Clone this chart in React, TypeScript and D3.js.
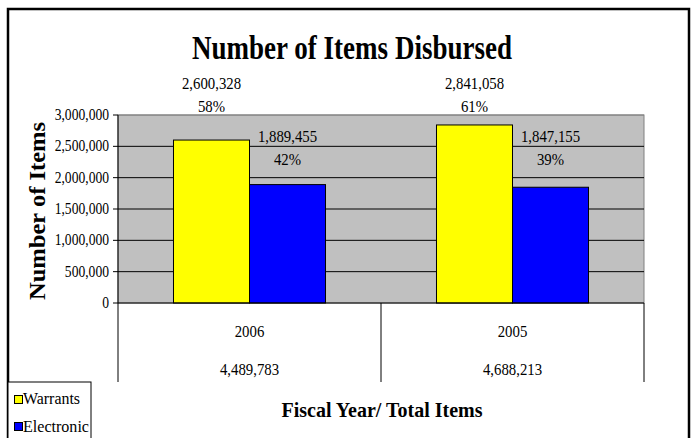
import React from "react";
import * as d3 from "d3";

const categories = ["2006", "2005"];
const totals = ["4,489,783", "4,688,213"];
const seriesNames = ["Warrants", "Electronic"];
const warrants = [2600328, 2841058];
const electronic = [1889455, 1847155];
const warrantsPct = ["58%", "61%"];
const electronicPct = ["42%", "39%"];
const yTicks = [0, 500000, 1000000, 1500000, 2000000, 2500000, 3000000];
const colors = ["#FFFF00", "#0000FF"];

const W = 694;
const H = 438;
const plot = { left: 118, right: 644, top: 115, bottom: 303 };
const serif = "'Liberation Serif', 'Times New Roman', Times, serif";

function CText(props: { x: number; y: number; size: number; sx?: number; anchor?: string; bold?: boolean; children: React.ReactNode }) {
  const { x, y, size, sx = 0.87, anchor = "middle", bold = false, children } = props;
  return (
    <text transform={`translate(${x},${y}) scale(${sx},1)`} textAnchor={anchor}
      style={{ fontFamily: serif, fontSize: size, fontWeight: bold ? "bold" : "normal" }} fill="#000">{children}</text>
  );
}

export default function App() {
  const y = d3.scaleLinear().domain([0, 3000000]).range([plot.bottom, plot.top]);
  const x0 = d3.scaleBand<string>().domain(categories).range([plot.left, plot.right]).paddingInner(0).paddingOuter(0);
  const x1 = d3.scaleBand<string>().domain(seriesNames).range([0, x0.bandwidth()]).paddingInner(0).paddingOuter(0.73);
  const fmt = d3.format(",");
  const series = [warrants, electronic];
  const pcts = [warrantsPct, electronicPct];
  // anchor levels (data units) where the manually placed labels sit
  const labelLevels = [3045000, 2200000];

  return (
    <svg width={W} height={H} style={{ position: "absolute", left: 0, top: 0, background: "#fff" }}>
      {/* outer frame */}
      <rect x={8} y={9} width={681} height={440} fill="#fff" stroke="#000" strokeWidth={2.5} />
      {/* title */}
      <text x={352} y={59} textAnchor="middle" style={{ fontFamily: serif, fontWeight: "bold", fontSize: 33 }}
        textLength={320} lengthAdjust="spacingAndGlyphs" fill="#000">Number of Items Disbursed</text>

      {/* plot area */}
      <rect x={plot.left} y={plot.top} width={plot.right - plot.left} height={plot.bottom - plot.top} fill="#C0C0C0" stroke="#808080" strokeWidth={1} />
      {yTicks.filter(t => t > 0).map(t => (
        <line key={t} x1={plot.left} x2={plot.right} y1={y(t)} y2={y(t)} stroke={t === 3000000 ? "#808080" : "#000"} strokeWidth={1} />
      ))}

      {/* bars */}
      {categories.map((c, i) => (
        <g key={c}>
          {seriesNames.map((s, j) => (
            <rect key={s} x={(x0(c) as number) + (x1(s) as number)} y={y(series[j][i])}
              width={x1.bandwidth()} height={y(0) - y(series[j][i])}
              fill={colors[j]} stroke="#000" strokeWidth={1} />
          ))}
        </g>
      ))}

      {/* data labels */}
      {categories.map((c, i) => seriesNames.map((s, j) => {
        const cx = (x0(c) as number) + (x1(s) as number) + x1.bandwidth() / 2;
        const py = y(labelLevels[j]);
        return (
          <g key={c + s}>
            <CText x={cx} y={py - 23} size={17}>{fmt(series[j][i])}</CText>
            <CText x={cx} y={py} size={17}>{pcts[j][i]}</CText>
          </g>
        );
      }))}

      {/* y axis */}
      <line x1={plot.left} x2={plot.left} y1={plot.top} y2={plot.bottom} stroke="#000" strokeWidth={1} />
      {yTicks.map(t => (
        <g key={t}>
          <line x1={plot.left - 5} x2={plot.left} y1={y(t)} y2={y(t)} stroke="#000" />
          <CText x={plot.left - 9} y={y(t) + 5} size={16} sx={0.85} anchor="end">{fmt(t)}</CText>
        </g>
      ))}
      <text transform={`translate(45, ${(plot.top + plot.bottom) / 2 + 2}) rotate(-90)`} textAnchor="middle"
        style={{ fontFamily: serif, fontWeight: "bold", fontSize: 24 }} textLength={178} lengthAdjust="spacingAndGlyphs" fill="#000">Number of Items</text>

      {/* category axis (table-like) */}
      <line x1={plot.left} x2={plot.right} y1={plot.bottom} y2={plot.bottom} stroke="#000" strokeWidth={1.2} />
      {[plot.left, ...categories.map(c => (x0(c) as number) + x0.bandwidth())].map((xx, k) => (
        <line key={k} x1={xx} x2={xx} y1={plot.bottom} y2={382} stroke="#000" strokeWidth={1} />
      ))}
      {categories.map((c, i) => {
        const cx = (x0(c) as number) + x0.bandwidth() / 2;
        return (
          <g key={c}>
            <CText x={cx} y={337} size={17}>{c}</CText>
            <CText x={cx} y={375} size={17}>{totals[i]}</CText>
          </g>
        );
      })}
      <text x={382} y={417} textAnchor="middle" style={{ fontFamily: serif, fontWeight: "bold", fontSize: 22 }}
        textLength={201} lengthAdjust="spacingAndGlyphs" fill="#000">Fiscal Year/ Total Items</text>

      {/* legend */}
      <rect x={8} y={382} width={83} height={60} fill="#fff" stroke="#000" strokeWidth={1} />
      {seriesNames.map((s, j) => (
        <g key={s}>
          <rect x={14.5} y={395.5 + j * 27} width={8} height={8} fill={colors[j]} stroke="#000" strokeWidth={1} />
          <text x={23} y={404 + j * 28} textLength={j === 0 ? 57 : 66} lengthAdjust="spacingAndGlyphs"
            style={{ fontFamily: serif, fontSize: 16 }} fill="#000">{s}</text>
        </g>
      ))}
    </svg>
  );
}
